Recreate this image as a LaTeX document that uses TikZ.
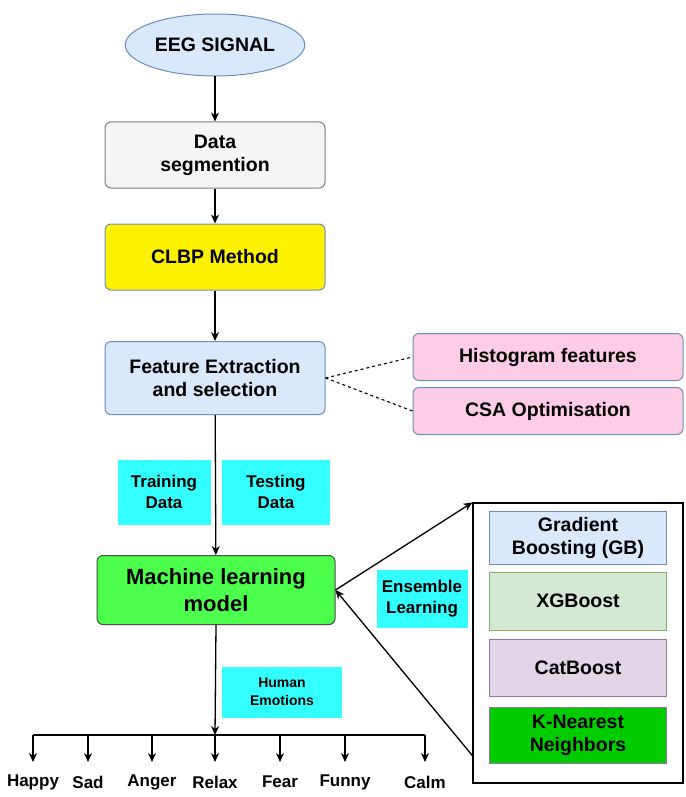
\documentclass[tikz,border=0pt]{standalone}
\usepackage{fontspec}
\setmainfont{Liberation Sans}
\usetikzlibrary{shapes.geometric,arrows.meta,positioning}
\definecolor{lblue}{HTML}{DAE8FC}
\definecolor{dblue}{HTML}{6C8EBF}
\definecolor{lgreen}{HTML}{D5E8D4}
\definecolor{dgreen}{HTML}{82B366}
\definecolor{lpurple}{HTML}{E1D5E7}
\definecolor{dpurple}{HTML}{9673A6}
\definecolor{lpink}{HTML}{FFCCE6}
\definecolor{aqua}{HTML}{33FFFF}
\definecolor{mlgreen}{HTML}{4CFF4C}
\definecolor{knn}{HTML}{00CC00}
\begin{document}
\begin{tikzpicture}[
    x=1pt, y=-1pt,
    every node/.style={font=\bfseries\fontsize{19.5}{23}\selectfont, align=center},
    block/.style={rectangle, rounded corners=6pt, minimum width=220pt, minimum height=66pt, inner sep=2pt, line width=1pt},
    side/.style={rectangle, rounded corners=6pt, minimum width=270pt, minimum height=47pt, fill=lpink, draw=dblue, line width=1pt},
    algo/.style={rectangle, minimum width=177pt, inner sep=2pt, line width=1pt},
    tag/.style={rectangle, fill=aqua, inner sep=2pt, font=\bfseries\fontsize{17}{21}\selectfont},
    emo/.style={font=\bfseries\fontsize{17}{20}\selectfont},
    arrow/.style={-{Stealth[length=9pt,width=8pt]}, line width=1.3pt}
]
\useasboundingbox (0,0) rectangle (685,797);

% main flow
\node[ellipse, fill=lblue, draw=dblue, line width=1pt, minimum width=160pt, minimum height=62pt] (eeg) at (215,45) {EEG SIGNAL};
\node[block, fill=gray!8, draw=gray] (seg) at (215,155) {Data\\segmention};
\node[block, fill=yellow, draw=dblue] (clbp) at (215,257) {CLBP Method};
\node[block, fill=lblue, draw=dblue, minimum height=73pt] (feat) at (215,378) {Feature Extraction\\and selection};
\node[block, fill=mlgreen, draw=black!70, minimum width=238pt, minimum height=69pt, font=\bfseries\fontsize{22}{27}\selectfont] (ml) at (216,590) {Machine learning\\model};

% side boxes
\node[side] (hist) at (548,357) {Histogram features};
\node[side] (csa) at (548,411) {CSA Optimisation};

% data tags
\node[tag, minimum width=93pt, minimum height=65pt] (train) at (164,492) {Training\\Data};
\node[tag, minimum width=108pt, minimum height=65pt] (test) at (276,492) {Testing\\Data};
\node[tag, minimum width=91pt, minimum height=58pt] (ens) at (422,599) {Ensemble\\Learning};
\node[tag, minimum width=120pt, minimum height=51pt, font=\bfseries\fontsize{14}{18}\selectfont] (hum) at (282,692) {Human\\Emotions};

% ensemble box
\node[draw=black, line width=1.2pt, fill=white, minimum width=210pt, minimum height=280pt] (ensbox) at (578,643) {};
\node[algo, fill=lblue, draw=dblue, minimum height=53pt] (gb) at (578,538) {Gradient\\Boosting (GB)};
\node[algo, fill=lgreen, draw=dgreen, minimum height=58pt] (xgb) at (578,601) {XGBoost};
\node[algo, fill=lpurple, draw=dpurple, minimum height=57pt] (cat) at (578,668) {CatBoost};
\node[algo, fill=knn, draw=dpurple, minimum height=56pt] (knn) at (578,735) {K-Nearest\\Neighbors};

% connectors
\draw[arrow] (eeg) -- (seg);
\draw[arrow] (seg) -- (clbp);
\draw[arrow] (clbp) -- (feat);
\draw[arrow] (feat) -- (ml);
\draw[dashed, line width=1.1pt] (feat.east) -- (hist.west);
\draw[dashed, line width=1.1pt] (feat.east) -- (csa.west);
\draw[arrow] (ml.east) -- (ensbox.north west);
\draw[arrow] (ensbox.south west) ++(0,-28) coordinate (ensin) (ensin) -- (ml.east);

% emotions
\coordinate (hline) at (215,735);
\draw[arrow] (ml.south) -- (hline);
\draw[line width=1.3pt] (33,735) -- (425,735);
\foreach \x/\name in {33/Happy, 88/Sad, 152/Anger, 215/Relax, 280/Fear, 345/Funny, 425/Calm}{
  \coordinate (top\name) at (\x,735);
  \node[emo] (e\name) at (\x,782) {\name};
  \draw[arrow] (top\name) -- ++(0,27);
}
\end{tikzpicture}
\end{document}
